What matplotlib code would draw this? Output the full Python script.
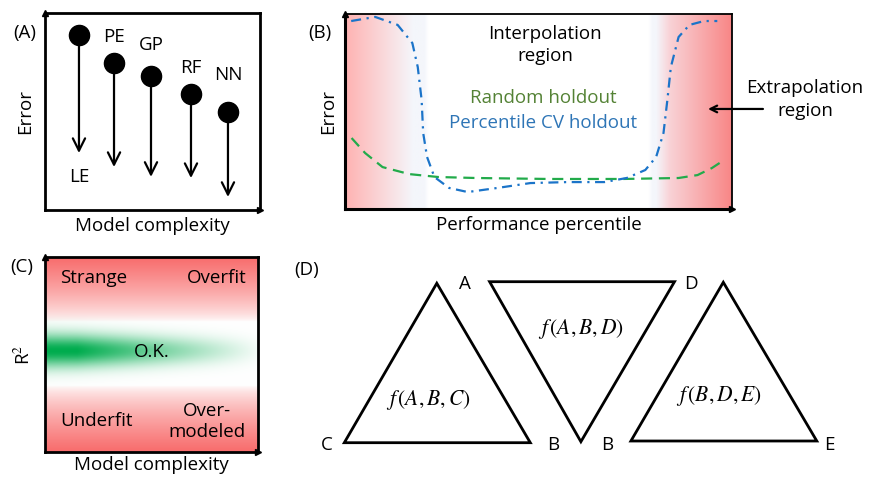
import numpy as np
import matplotlib.pyplot as plt

plt.rcParams['font.family'] = ['Open Sans', 'DejaVu Sans']
plt.rcParams['mathtext.fontset'] = 'stix'

# ---- data ----
# (A) error of each model family vs complexity
models = ['LE', 'PE', 'GP', 'RF', 'NN']
model_x = [0.158, 0.321, 0.493, 0.679, 0.851]
err_start = [0.888, 0.746, 0.680, 0.589, 0.497]
err_end = [0.289, 0.218, 0.168, 0.162, 0.066]
label_y = [0.168, 0.878, 0.838, 0.721, 0.685]

# (B) error vs performance percentile
cv_pct = [1.6, 7.8, 13.6, 17.4, 18.8, 19.8, 20.2, 21.2, 23.1, 26.9, 31.7, 39.4,
          47.9, 57.5, 67.0, 72.8, 77.6, 80.4, 82.3, 83.3, 84.2, 86.2, 89.0, 92.8, 96.2]
cv_err = [0.964, 0.985, 0.944, 0.851, 0.728, 0.559, 0.390, 0.267, 0.164, 0.108,
          0.087, 0.108, 0.133, 0.138, 0.138, 0.159, 0.200, 0.267, 0.390, 0.559,
          0.728, 0.882, 0.944, 0.964, 0.964]
rand_pct = [1.7, 5.2, 9.7, 16.6, 24.1, 33.8, 52.7, 71.9, 86.2, 91.1, 94.8, 96.8]
rand_err = [0.364, 0.287, 0.215, 0.179, 0.164, 0.159, 0.154, 0.154, 0.159, 0.174, 0.210, 0.236]

# (C) regimes in R^2 vs complexity
regimes = ['Strange', 'Overfit', 'O.K.', 'Underfit', 'Over-\nmodeled']
regime_x = [0.23, 0.808, 0.502, 0.244, 0.76]
regime_y = [0.892, 0.892, 0.513, 0.159, 0.156]

# (D) triangles and their vertex labels
triangles = [
    [(1.368, 1.767), (0.443, 0.173), (2.303, 0.173)],
    [(1.896, 1.783), (3.745, 1.783), (2.809, 0.183)],
    [(4.233, 1.777), (3.309, 0.190), (5.168, 0.190)],
]
vertex_labels = ['A', 'D', 'C', 'B', 'B', 'E']
vertex_x = [1.645, 3.911, 0.27, 2.536, 3.072, 5.29]
vertex_y = [1.757, 1.757, 0.15, 0.15, 0.15, 0.15]
f_labels = [r'$f\,(A,B,C)$', r'$f\,(A,B,D)$', r'$f\,(B,D,E)$']
f_x = [1.286, 2.809, 4.188]
f_y = [0.60, 1.31, 0.643]

W, H = 869, 479
fig = plt.figure(figsize=(W / 100, H / 100), dpi=100)


def px_axes(l, t, r, b):
    return fig.add_axes([l / W, 1 - b / H, (r - l) / W, (b - t) / H])


def axis_arrows(ax):
    ax.plot(0, 1, marker='^', color='k', ms=5, transform=ax.transAxes, clip_on=False, zorder=6)
    ax.plot(1, 0, marker='>', color='k', ms=5, transform=ax.transAxes, clip_on=False, zorder=6)


FS = 13.5

# ---- (A) ----
axA = px_axes(45, 13, 260, 210)
axA.set_xlim(0, 1)
axA.set_ylim(0, 1)
for x, y0, y1, name, ly in zip(model_x, err_start, err_end, models, label_y):
    axA.annotate('', xy=(x, y1), xytext=(x, y0),
                 arrowprops=dict(arrowstyle='->', lw=1.6, color='k', mutation_scale=22,
                                 shrinkA=0, shrinkB=0))
    axA.plot(x, y0, 'o', color='k', ms=14.5, zorder=5)
    axA.text(x, ly, name, ha='center', va='center', fontsize=FS)
axA.set_xticks([])
axA.set_yticks([])
for s in axA.spines.values():
    s.set_linewidth(2)
axis_arrows(axA)
axA.set_xlabel('Model complexity', fontsize=FS, labelpad=5)
axA.set_ylabel('Error', fontsize=FS, labelpad=8)
fig.text(25 / W, 1 - 33 / H, '(A)', fontsize=FS, ha='center', va='center')

# ---- (B) ----
axB = px_axes(345, 14, 732, 209)
axB.set_xlim(0, 100)
axB.set_ylim(0, 1)
stops = [0, 16, 17.5, 20.5, 21.5, 78.5, 79.5, 80.5, 84, 100]
stop_rgb = np.array([
    [255, 178, 178], [246, 240, 244], [244, 246, 251], [244, 246, 251], [255, 255, 255],
    [255, 255, 255], [244, 246, 251], [244, 246, 251], [249, 210, 214], [248, 134, 134],
]) / 255
gx = np.linspace(0, 100, 600)
grad = np.stack([np.interp(gx, stops, stop_rgb[:, k]) for k in range(3)], axis=-1)[None, :, :]
axB.imshow(grad, extent=(0, 100, 0, 1), aspect='auto', zorder=0)
axB.plot(rand_pct, rand_err, color='#22ab4b', lw=1.6, ls=(0, (5, 3)), zorder=2)
axB.plot(cv_pct, cv_err, color='#1b74c9', lw=1.6, ls=(0, (4.5, 2.5, 1, 2.5)), zorder=3)
axB.text(0.517, 0.841, 'Interpolation\nregion', transform=axB.transAxes, ha='center',
         va='center', fontsize=FS, linespacing=1.35)
axB.text(0.512, 0.569, 'Random holdout', transform=axB.transAxes, ha='center',
         va='center', fontsize=FS, color='#548235')
axB.text(0.512, 0.441, 'Percentile CV holdout', transform=axB.transAxes, ha='center',
         va='center', fontsize=FS, color='#2e75b6')
axB.text(1.189, 0.562, 'Extrapolation\nregion', transform=axB.transAxes, ha='center',
         va='center', fontsize=FS, linespacing=1.35)
axB.annotate('', xy=(0.938, 0.513), xytext=(1.08, 0.513), xycoords='axes fraction',
             arrowprops=dict(arrowstyle='->', lw=1.6, color='k', mutation_scale=12,
                             shrinkA=0, shrinkB=0), annotation_clip=False)
axB.set_xticks([])
axB.set_yticks([])
axB.spines['left'].set_linewidth(2.2)
axB.spines['bottom'].set_linewidth(2.2)
axB.spines['top'].set_linewidth(1.3)
axB.spines['right'].set_linewidth(1.3)
axis_arrows(axB)
axB.set_xlabel('Performance percentile', fontsize=FS, labelpad=5)
axB.set_ylabel('Error', fontsize=FS, labelpad=6)
fig.text(320 / W, 1 - 33 / H, '(B)', fontsize=FS, ha='center', va='center')

# ---- (C) ----
axC = px_axes(45, 257, 258, 452)
axC.set_xlim(0, 1)
axC.set_ylim(0, 1)
cx, cy = np.meshgrid(np.linspace(0, 1, 300), np.linspace(0, 1, 300))
red = np.array([248, 108, 108]) / 255
green = np.array([0, 172, 78]) / 255
t_top = np.clip((cy - 0.67) / 0.33, 0, 1) ** 0.7
t_bot = np.clip((0.34 - cy) / 0.34, 0, 1) ** 0.7
t_red = np.maximum(t_top, t_bot)[..., None]
img = (1 - t_red) * 1 + t_red * red
fade = np.clip(1 - (cx - 0.15) / 0.9, 0, 1) ** 1.1
t_g = (np.exp(-((cy - 0.52) / (0.085 - 0.02 * cx)) ** 2) * fade)[..., None]
img = (1 - t_g) * img + t_g * green
axC.imshow(img, extent=(0, 1, 0, 1), origin='lower', aspect='auto', zorder=0)
for name, x, y in zip(regimes, regime_x, regime_y):
    axC.text(x, y, name, ha='center', va='center', fontsize=FS, linespacing=1.2)
axC.set_xticks([])
axC.set_yticks([])
for s in axC.spines.values():
    s.set_linewidth(2)
axis_arrows(axC)
axC.set_xlabel('Model complexity', fontsize=FS, labelpad=3)
axC.set_ylabel('R$^2$', fontsize=FS, labelpad=8)
fig.text(22 / W, 1 - 267 / H, '(C)', fontsize=FS, ha='center', va='center')

# ---- (D) ----
axD = px_axes(300, 260, 860, 460)
axD.set_xlim(0, 5.6)
axD.set_ylim(0, 2.0)
axD.axis('off')
for tri in triangles:
    axD.add_patch(plt.Polygon(tri, closed=True, fill=False, ec='k', lw=2, joinstyle='miter'))
for name, x, y in zip(vertex_labels, vertex_x, vertex_y):
    axD.text(x, y, name, ha='center', va='center', fontsize=FS)
for lab, x, y in zip(f_labels, f_x, f_y):
    axD.text(x, y, lab, ha='center', va='center', fontsize=15.5)
fig.text(307 / W, 1 - 270 / H, '(D)', fontsize=FS, ha='center', va='center')

fig.savefig('out.png', dpi=100)
